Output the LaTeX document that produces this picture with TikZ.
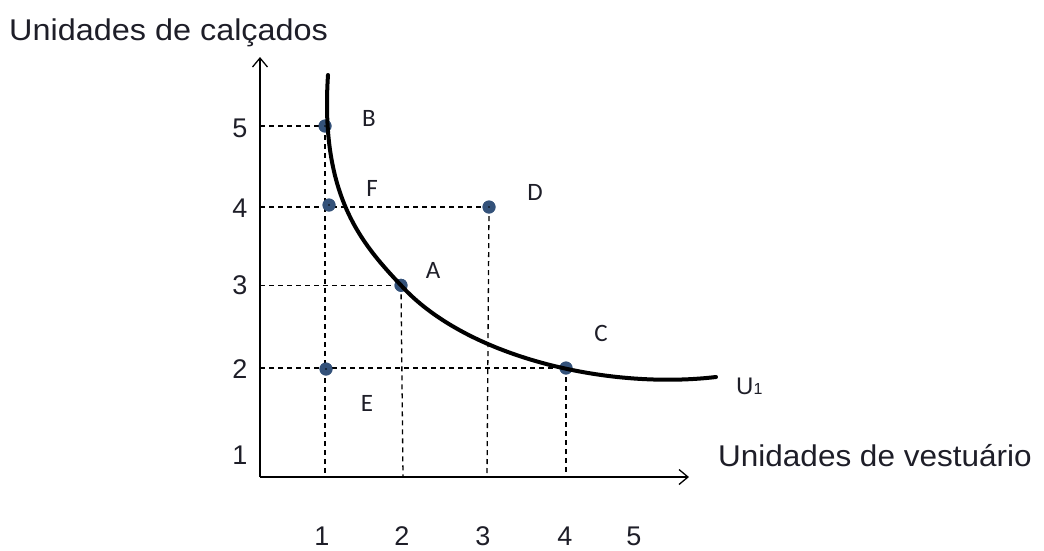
\documentclass[tikz,border=0pt]{standalone}
\usepackage{fontspec}
\setmainfont{Liberation Sans}
\newfontfamily\lblfont{Carlito}
\usetikzlibrary{arrows.meta}
\definecolor{dotblue}{HTML}{34527A}
\definecolor{txt}{HTML}{1E1E28}
\begin{document}
\begin{tikzpicture}[x=1pt,y=-1pt,
  axis/.style={line width=1.4pt,-{Straight Barb[length=9pt,width=15pt,line width=1.3pt]}},
  guide/.style={dashed,line width=1.3pt,dash pattern=on 5pt off 4pt},
  pt/.style={circle,fill=dotblue,inner sep=0pt,minimum size=13pt},
  ptlbl/.style={font=\lblfont\fontsize{25}{25}\selectfont,text=txt,inner sep=0pt},
  tick/.style={font=\fontsize{27}{27}\selectfont,text=txt,inner sep=0pt},
  title/.style={font=\fontsize{30}{30}\selectfont,text=txt,inner sep=0pt},
  curve/.style={line width=4pt,line cap=round}]
\useasboundingbox (0,0) rectangle (1044,550);
\coordinate (O) at (260,477);
\coordinate (ytop) at (260,57);
\coordinate (xend) at (689,477);
% axis feet
\coordinate (y5) at (260,126);
\coordinate (y4) at (260,207);
\coordinate (y3) at (260,285.3);
\coordinate (y2) at (260,368);
\coordinate (x1) at (325,477);
\coordinate (x2) at (403,477);
\coordinate (x3) at (487,477);
\coordinate (x4) at (566,477);
% points
\node[pt] (B) at (325,126) {};
\node[pt] (F) at (329,205) {};
\node[pt] (D) at (489,207) {};
\node[pt] (A) at (401,285.3) {};
\node[pt] (E) at (326,369) {};
\node[pt] (C) at (566,368) {};
% guides
\draw[guide] (y5) -- (B.center);
\draw[guide] (y4) -- (D.center);
\draw[guide] (y3) -- (A.center);
\draw[guide] (y2) -- (C.center);
\draw[guide] (B.center) -- (x1);
\draw[guide] (A.center) -- (x2);
\draw[guide] (D.center) -- (x3);
\draw[guide] (C.center) -- (x4);
% dots on top of guides
\foreach \p in {B,F,D,A,E,C}{\fill[dotblue] (\p) circle (6.5pt); \fill[black] (\p) circle (0.9pt);}
% axes
\draw[axis] (O) -- (ytop);
\draw[axis] (O) -- (xend);
% indifference curve
\coordinate (ctop) at (328,75);
\coordinate (cend) at (716,377);
\draw[curve] (ctop) .. controls (320,195) and (361,243) .. (A.center)
  .. controls (465,356) and (605,390) .. (cend);
% point labels
\node[ptlbl] (lB) at (369,118) {B};
\node[ptlbl] (lF) at (372,188) {F};
\node[ptlbl] (lD) at (535,192) {D};
\node[ptlbl] (lA) at (433,270) {A};
\node[ptlbl] (lC) at (601,333) {C};
\node[ptlbl] (lE) at (367,403) {E};
\node[font=\fontsize{24}{24}\selectfont,text=txt,inner sep=0pt,anchor=west] (U) at (736,386) {U{\fontsize{16}{16}\selectfont 1}};
% tick labels
\node[tick] (t5) at (240,128) {5};
\node[tick] (t4) at (240,208) {4};
\node[tick] (t3) at (240,285) {3};
\node[tick] (t2) at (240,369) {2};
\node[tick] (t1) at (240,455) {1};
\node[tick] (s1) at (322,536) {1};
\node[tick] (s2) at (402,536) {2};
\node[tick] (s3) at (483,536) {3};
\node[tick] (s4) at (565,536) {4};
\node[tick] (s5) at (634,536) {5};
% axis titles
\node[title,anchor=west] (yt) at (9,33) {\scalebox{1.08}[1]{Unidades de calçados}};
\node[title,anchor=west] (xt) at (718,456) {\scalebox{1.05}[1]{Unidades de vestuário}};
\end{tikzpicture}
\end{document}
